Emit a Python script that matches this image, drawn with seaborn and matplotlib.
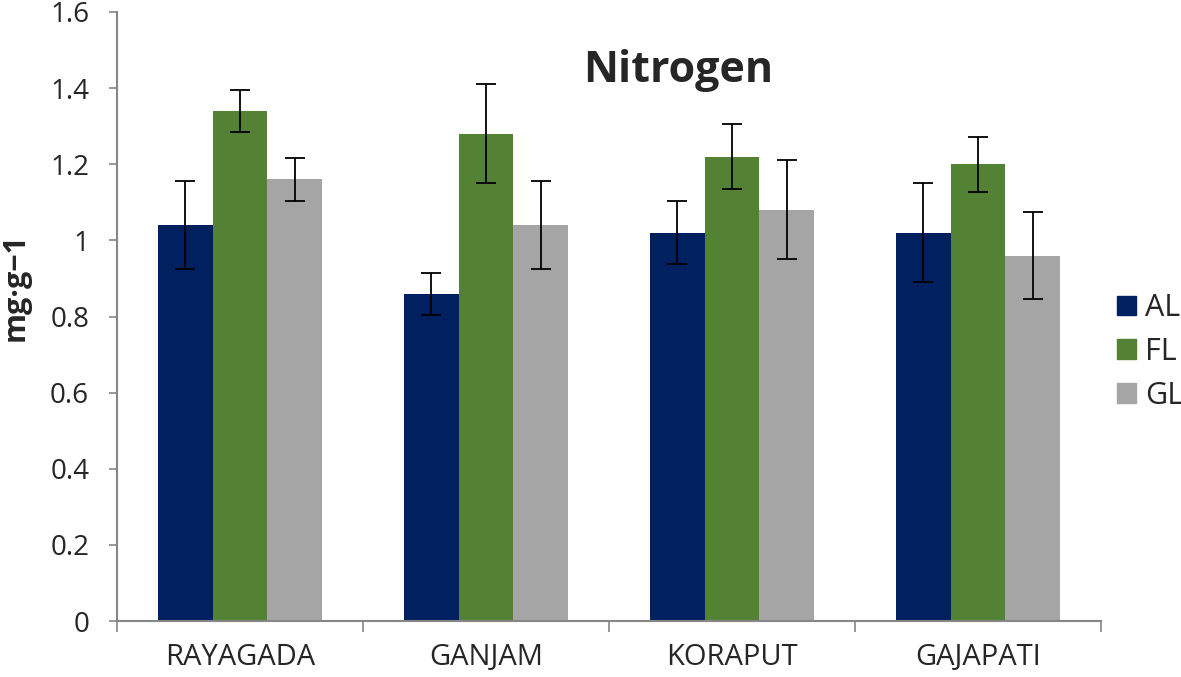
import numpy as np
import pandas as pd
import matplotlib
matplotlib.use("Agg")
import matplotlib.pyplot as plt
import seaborn as sns

districts = ["RAYAGADA", "GANJAM", "KORAPUT", "GAJAPATI"]
groups = ["AL", "FL", "GL"]
al_mean = [1.04, 0.86, 1.02, 1.02]
fl_mean = [1.34, 1.28, 1.22, 1.20]
gl_mean = [1.16, 1.04, 1.08, 0.96]
al_err = [0.115, 0.055, 0.083, 0.13]
fl_err = [0.055, 0.13, 0.085, 0.072]
gl_err = [0.057, 0.115, 0.13, 0.115]
yticks = [0, 0.2, 0.4, 0.6, 0.8, 1, 1.2, 1.4, 1.6]
ytick_labels = ["0", "0.2", "0.4", "0.6", "0.8", "1", "1.2", "1.4", "1.6"]
colors = ["#002060", "#538234", "#a5a5a5"]

means = {"AL": al_mean, "FL": fl_mean, "GL": gl_mean}
errs = {"AL": al_err, "FL": fl_err, "GL": gl_err}
rows = []
for g in groups:
    for d, m, e in zip(districts, means[g], errs[g]):
        rows.append({"District": d, "Group": g, "Value": m, "Err": e})
df = pd.DataFrame(rows)

sns.set_theme(style="white")
plt.rcParams['font.family'] = ['Open Sans', 'DejaVu Sans']

fig = plt.figure(figsize=(11.81, 6.77), dpi=100)
ax = fig.add_axes([117/1181, 56/677, (1101-117)/1181, (621-12)/677])

sns.barplot(data=df, x="District", y="Value", hue="Group", order=districts,
            hue_order=groups, palette=colors, errorbar=None, width=0.67,
            saturation=1, ax=ax, linewidth=0, legend=False)

# error bars at bar centers
for container, g in zip(ax.containers, groups):
    xs = [p.get_x() + p.get_width() / 2 for p in container.patches]
    hs = [p.get_height() for p in container.patches]
    ax.errorbar(xs, hs, yerr=errs[g], fmt="none", ecolor="black",
                elinewidth=1.3, capsize=7.5, capthick=1.3, zorder=5)

ax.set_ylim(0, 1.6)
ax.set_xlim(-0.5, 3.5)
ax.set_yticks(yticks)
ax.set_yticklabels(ytick_labels, fontsize=20)
ax.set_xticks(np.arange(4))
ax.set_xticklabels(districts, fontsize=21)
ax.set_xlabel("")
ax.set_ylabel("")

for s in ["top", "right"]:
    ax.spines[s].set_visible(False)
for s in ["left", "bottom"]:
    ax.spines[s].set_color("#868686")
    ax.spines[s].set_linewidth(1.5)

ax.tick_params(axis="y", direction="out", length=6, width=1.2, color="#868686", pad=14, left=True)
ax.tick_params(axis="x", length=0, pad=16)
# category boundary ticks
ax.set_xticks(np.arange(-0.5, 4.0, 1.0), minor=True)
ax.tick_params(axis="x", which="minor", direction="out", length=8, width=1.2,
               color="#868686", bottom=True)

fig.text(678/1181, 1 - 70/677, "Nitrogen", ha="center", va="center",
         fontsize=31, fontweight="bold")
fig.text(16/1181, 1 - 287/677, "mg·g−1", rotation=90, ha="center", va="center",
         fontsize=22, fontweight="bold")

handles = [plt.Rectangle((0, 0), 1, 1, color=c) for c in colors]
leg = fig.legend(handles, groups, loc="center left", bbox_to_anchor=(1117/1181, 1 - 352/677),
                 frameon=False, prop={"size": 22}, borderpad=0, borderaxespad=0,
                 handlelength=0.62, handleheight=0.62, handletextpad=0.3, labelspacing=0.45)

fig.savefig("out.png", dpi=100)
